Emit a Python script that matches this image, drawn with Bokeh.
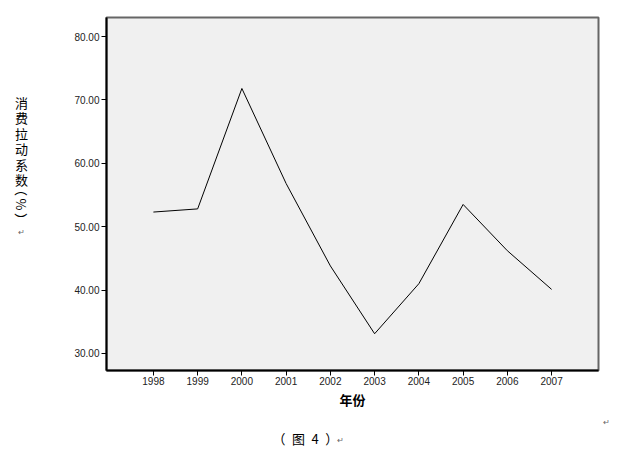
import math
from bokeh.plotting import figure
from bokeh.layouts import column, row
from bokeh.models import Range1d, FixedTicker, NumeralTickFormatter, ColumnDataSource
from bokeh.core.properties import value
from bokeh.embed import file_html
from bokeh.resources import INLINE

years = [1998, 1999, 2000, 2001, 2002, 2003, 2004, 2005, 2006, 2007]
coef = [52.3, 52.8, 71.8, 56.8, 43.8, 33.1, 41.0, 53.5, 46.2, 40.1]
y_ticks = [30, 40, 50, 60, 70, 80]
x_label = "年份"
y_label_chars = ["消", "费", "拉", "动", "系", "数"]
y_label_unit = "（\u2009%\u2009）"
caption = "（\u2002图\u20024\u2002）"
para_mark = "↵"

TOTAL_W, TOP_H, BOT_H = 613, 411, 37
LEFT_W = 56
FRAME_TOP, FRAME_BOTTOM = 17, 370
CJK = value("Noto Sans CJK SC")


def blank_fig(w, h, top=0, bottom=None):
    bottom = h if bottom is None else bottom
    f = figure(width=w, height=h, output_backend="svg", toolbar_location=None,
               x_range=Range1d(0, w), y_range=Range1d(bottom, top),
               min_border_left=0, min_border_right=0,
               min_border_top=top, min_border_bottom=h - bottom,
               x_axis_type=None, y_axis_type=None)
    f.grid.visible = False
    f.outline_line_color = None
    f.background_fill_color = "white"
    f.border_fill_color = "white"
    return f


# ---- left strip: stacked vertical y-axis title (coordinates = picture pixels)
left = blank_fig(LEFT_W, TOP_H, FRAME_TOP, FRAME_BOTTOM)
ys = [101.5 + 15.5 * i for i in range(len(y_label_chars))]
left.text(x=[21] * len(ys), y=ys, text=y_label_chars, text_font=CJK,
          text_font_size="13px", text_align="center", text_baseline="middle",
          text_color="black")
left.text(x=[21], y=[204], text=[y_label_unit], text_font=CJK,
          text_font_size="13px", text_align="center", text_baseline="middle",
          angle=-math.pi / 2, text_color="black")
left.text(x=[21], y=[232], text=[para_mark], text_font=value("DejaVu Sans"),
          text_font_size="8px", text_align="center", text_baseline="middle",
          text_color="#666666")

# ---- main chart
MAIN_W = TOTAL_W - LEFT_W
p = figure(width=MAIN_W, height=TOP_H, output_backend="svg", toolbar_location=None,
           x_range=Range1d(1996.94, 2008.06), y_range=Range1d(27.3, 83.0),
           min_border_left=106 - LEFT_W, min_border_right=TOTAL_W - 598,
           min_border_top=FRAME_TOP, min_border_bottom=TOP_H - FRAME_BOTTOM)

src = ColumnDataSource(dict(x=years, y=coef))
p.line("x", "y", source=src, line_color="black", line_width=1)

p.background_fill_color = "#f0f0f0"
p.border_fill_color = "white"
p.outline_line_color = "#666666"
p.outline_line_width = 2
p.grid.visible = False

p.xaxis.ticker = FixedTicker(ticks=years)
p.yaxis.ticker = FixedTicker(ticks=y_ticks)
p.yaxis.formatter = NumeralTickFormatter(format="0.00")
for ax in (p.xaxis[0], p.yaxis[0]):
    ax.axis_line_color = "black"
    ax.axis_line_width = 2
    ax.major_tick_line_color = "black"
    ax.major_tick_line_width = 1
    ax.major_tick_out = 5
    ax.major_tick_in = 0
    ax.minor_tick_line_color = None
    ax.major_label_text_font = "Liberation Sans"
    ax.major_label_text_font_size = "10px"
    ax.major_label_text_color = "#222222"
    ax.major_label_standoff = 2
p.xaxis.major_label_standoff = 1

p.xaxis.axis_label = x_label
p.xaxis.axis_label_text_font = "Noto Sans CJK SC"
p.xaxis.axis_label_text_font_style = "bold"
p.xaxis.axis_label_text_font_size = "13px"
p.xaxis.axis_label_text_color = "black"
p.xaxis.axis_label_standoff = 2

# ---- bottom strip: caption and paragraph marks
bot = blank_fig(TOTAL_W, BOT_H)
y0 = TOP_H
bot.text(x=[272], y=[438 - y0], text=[caption], text_font=CJK,
         text_font_size="13px", text_align="left", text_baseline="middle",
         text_color="black")
bot.text(x=[340, 606], y=[440 - y0, 422 - y0], text=[para_mark, para_mark],
         text_font=value("DejaVu Sans"), text_font_size="8px",
         text_align="center", text_baseline="middle", text_color="#666666")

layout = column(row(left, p, spacing=0), bot, spacing=0)
open("out.html", "w").write(file_html(layout, INLINE))
